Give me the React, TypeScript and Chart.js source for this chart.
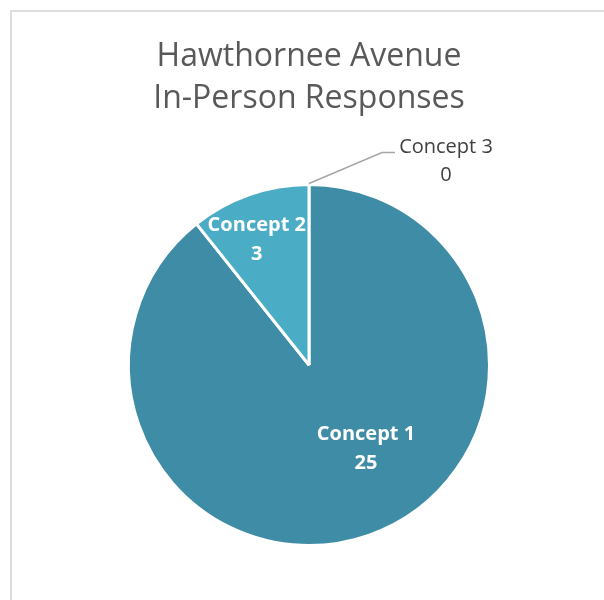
import React, { useEffect, useRef } from "react";
import { Chart, registerables } from "chart.js";

Chart.register(...registerables);

const titleLines = ["Hawthornee Avenue", "In-Person Responses"];
const categories = ["Concept 1", "Concept 2", "Concept 3"];
const responses = [25, 3, 0];
const sliceColors = ["#3E8CA5", "#4BACC6", "#9CCFDE"];

// label placement (style only): fraction of radius and angle tweak (deg), or outside with leader
const placement = [
  { inside: true, frac: 0.56, dAngle: -15 },
  { inside: true, frac: 0.75, dAngle: -3.4 },
  { inside: false, elbowDx: 73, elbowDy: -31, tail: 13, textDx: 64, textDy: 9 },
];

const labelPlugin = {
  id: "sliceLabels",
  afterDatasetsDraw(chart: any) {
    const ctx = chart.ctx;
    const meta = chart.getDatasetMeta(0);
    const data = chart.data.datasets[0].data as number[];
    const labels = chart.data.labels as string[];
    meta.data.forEach((arc: any, i: number) => {
      const p = arc.getProps(["x", "y", "startAngle", "endAngle", "outerRadius"], true);
      const mid = (p.startAngle + p.endAngle) / 2;
      const pl: any = placement[i];
      const lines = [labels[i], String(data[i])];
      ctx.save();
      ctx.textAlign = "center";
      ctx.textBaseline = "middle";
      if (pl.inside) {
        const a = mid + (pl.dAngle * Math.PI) / 180;
        const cx = p.x + Math.cos(a) * pl.frac * p.outerRadius;
        const cy = p.y + Math.sin(a) * pl.frac * p.outerRadius;
        ctx.fillStyle = "#FFFFFF";
        ctx.font = "bold 20px 'Open Sans'";
        ctx.fillText(lines[0], cx, cy - 14.5);
        ctx.fillText(lines[1], cx, cy + 14.5);
      } else {
        const ex = p.x + Math.cos(mid) * (p.outerRadius + 1);
        const ey = p.y + Math.sin(mid) * (p.outerRadius + 1);
        const bx = ex + pl.elbowDx;
        const by = ey + pl.elbowDy;
        ctx.strokeStyle = "#A6A6A6";
        ctx.lineWidth = 1.5;
        ctx.beginPath();
        ctx.moveTo(ex, ey);
        ctx.lineTo(bx, by);
        ctx.lineTo(bx + pl.tail, by);
        ctx.stroke();
        const cx = bx + pl.textDx;
        const cy = by + pl.textDy;
        ctx.fillStyle = "#404040";
        ctx.font = "20px 'Open Sans'";
        ctx.fillText(lines[0], cx, cy - 14);
        ctx.fillText(lines[1], cx, cy + 14);
      }
      ctx.restore();
    });
  },
};

export default function App() {
  const ref = useRef<HTMLCanvasElement | null>(null);
  useEffect(() => {
    if (!ref.current) return;
    const chart = new Chart(ref.current, {
      type: "pie",
      data: {
        labels: categories,
        datasets: [
          {
            data: responses,
            backgroundColor: sliceColors,
            borderColor: "#FFFFFF",
            borderWidth: 3,
          },
        ],
      },
      options: {
        responsive: false,
        animation: false,
        events: [],
        radius: 180.5,
        layout: { padding: { left: 14, right: 0, top: 0, bottom: 0 } },
        plugins: {
          legend: { display: false },
          tooltip: { enabled: false },
          title: {
            display: true,
            text: titleLines,
            color: "#595959",
            font: { family: "'Open Sans'", size: 32, weight: "normal", lineHeight: 42 / 32 },
            padding: { top: 36, bottom: 10 },
          },
        },
      } as any,
      plugins: [labelPlugin],
    });
    return () => chart.destroy();
  }, []);
  return (
    <div>
      <div
        style={{
          position: "fixed",
          left: 10,
          top: 10,
          width: 594,
          height: 590,
          boxSizing: "border-box",
          borderLeft: "2px solid #DDDDDD",
          borderTop: "2px solid #DDDDDD",
        }}
      />
      <canvas
        ref={ref}
        width={604}
        height={600}
        style={{ position: "fixed", left: 0, top: 0, width: 604, height: 600 }}
      />
    </div>
  );
}
